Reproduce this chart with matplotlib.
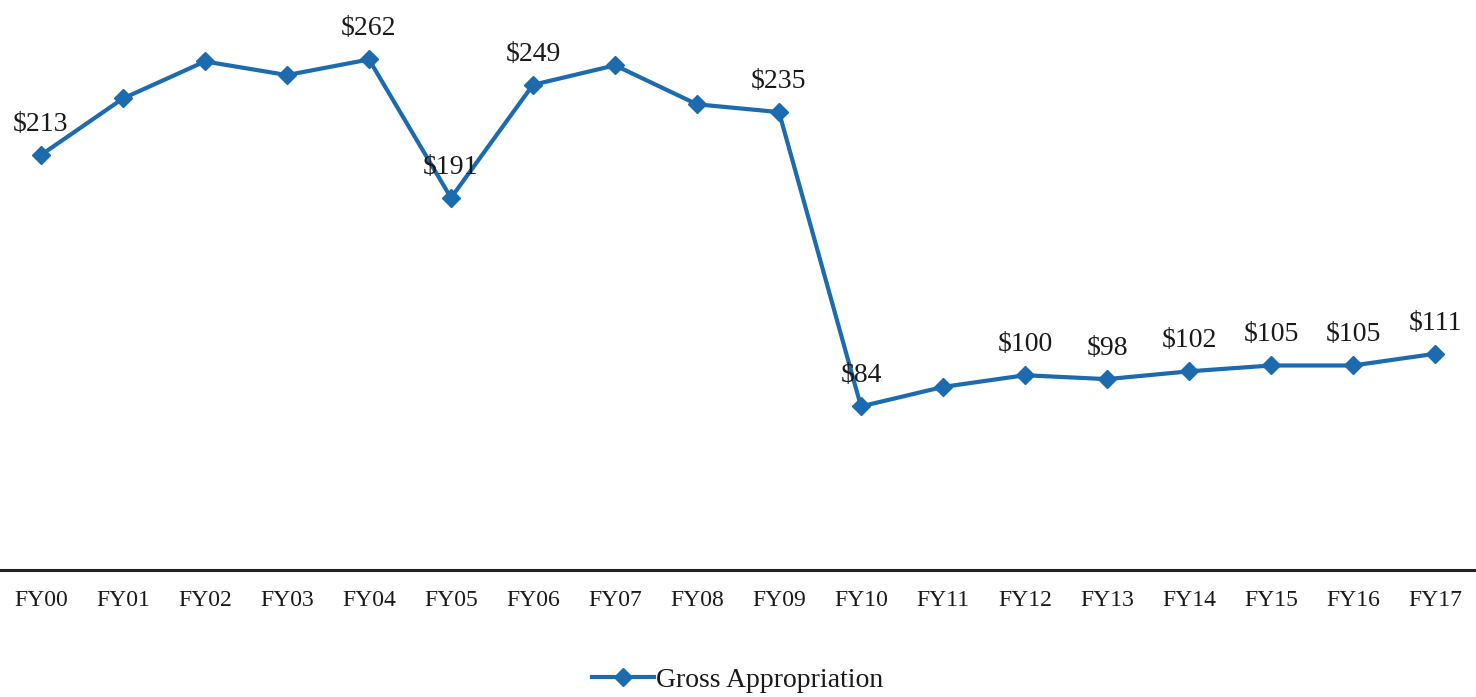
import matplotlib.pyplot as plt

# 各财年数据（单位：百万美元）
years = ["FY00", "FY01", "FY02", "FY03", "FY04", "FY05", "FY06", "FY07", "FY08",
         "FY09", "FY10", "FY11", "FY12", "FY13", "FY14", "FY15", "FY16", "FY17"]
gross = [213, 242, 261, 254, 262, 191, 249, 259, 239,
         235, 84, 94, 100, 98, 102, 105, 105, 111]
# 需要标注数值的年份
labeled = ["FY00", "FY04", "FY05", "FY06", "FY09", "FY10",
           "FY12", "FY13", "FY14", "FY15", "FY16", "FY17"]

plt.rcParams['font.family'] = ['Liberation Serif', 'DejaVu Serif']

fig = plt.figure(figsize=(14.76, 6.97), dpi=100)
ax = fig.add_axes([0.0, 0.182, 1.0, 0.783])

x = list(range(len(years)))
line, = ax.plot(x, gross, color='#1c6bae', linewidth=3, marker='D', markersize=9,
                label='Gross Appropriation')

for i in range(len(years)):
	if years[i] in labeled:
		ax.annotate('$' + str(gross[i]), (x[i], gross[i]), xytext=(0, 22),
		            textcoords='offset points', ha='center', va='center',
		            fontsize=20, color='#1a1a1a')

ax.set_xlim(-0.5, len(years) - 0.5)
ax.set_ylim(0, 280)
ax.set_xticks(x)
ax.set_xticklabels(years, fontsize=17, color='#1a1a1a')
ax.set_yticks([])
ax.tick_params(axis='x', length=0, pad=14)
for s in ['top', 'left', 'right']:
	ax.spines[s].set_visible(False)
ax.spines['bottom'].set_linewidth(2.2)
ax.spines['bottom'].set_color('#222222')

fig.legend(handles=[line], loc='lower center', bbox_to_anchor=(0.5, -0.03),
           frameon=False, fontsize=20, handlelength=2.2, handletextpad=0.1,
           labelcolor='#1a1a1a')

fig.savefig('out.png', dpi=100)
